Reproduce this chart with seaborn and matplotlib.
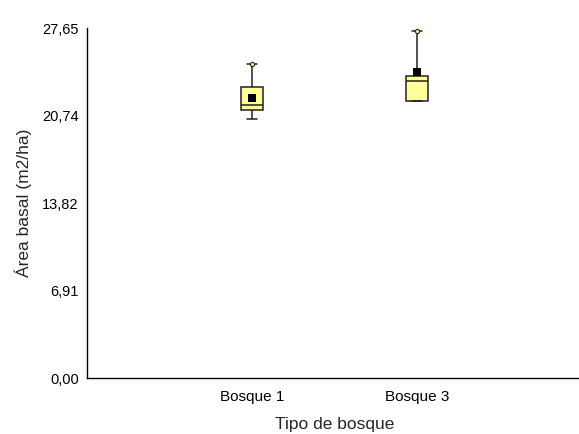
import numpy as np
import pandas as pd
import matplotlib
matplotlib.use("Agg")
import matplotlib.pyplot as plt
import seaborn as sns

# Five-number summaries of basal area (m2/ha) per forest type
categories = ["Bosque 1", "Bosque 3"]
minimum = [20.50, 21.87]
q1 = [21.16, 21.87]
median = [21.60, 23.48]
q3 = [23.00, 23.85]
maximum = [24.80, 27.44]
means = [22.13, 24.19]

y_ticks = [0.00, 6.91, 13.82, 20.74, 27.65]
y_ticklabels = ["0,00", "6,91", "13,82", "20,74", "27,65"]

sns.set_style("white")
plt.rcParams["font.family"] = ["Liberation Sans", "DejaVu Sans"]

# Long table: each group's summary values (quartiles of 5 values land exactly on q1/q3)
rows = []
for i, cat in enumerate(categories):
    for v in (minimum[i], q1[i], median[i], q3[i], maximum[i]):
        rows.append({"Tipo de bosque": cat, "Área basal": v})
df = pd.DataFrame(rows)
df_mean = pd.DataFrame({"Tipo de bosque": categories, "media": means})
df_max = pd.DataFrame({"Tipo de bosque": categories, "max": maximum})

fig = plt.figure(figsize=(5.79, 4.34), dpi=100)
ax = fig.add_axes([87 / 579, 1 - 378 / 434, 495 / 579, (378 - 28) / 434])

line_kw = dict(color="#222222", linewidth=1.1)
sns.boxplot(
    data=df, x="Tipo de bosque", y="Área basal", order=categories,
    width=0.13, whis=(0, 100), color="#FFFF99", saturation=1,
    linecolor="#222222", linewidth=1.1, fliersize=0,
    medianprops=dict(color="#222222", linewidth=1.1),
    capprops=line_kw, whiskerprops=line_kw,
    ax=ax,
)

# Maximum markers and mean squares
sns.scatterplot(data=df_max, x="Tipo de bosque", y="max", marker="o", s=9,
                color="#FFFF99", edgecolor="#222222", linewidth=0.8, zorder=5, ax=ax)
sns.scatterplot(data=df_mean, x="Tipo de bosque", y="media", marker="s", s=38,
                color="black", edgecolor="black", linewidth=0, zorder=6, ax=ax)

ax.set_xlim(-1, 2)
ax.set_ylim(0, 27.65)
ax.set_xticks([-1, 0, 1])
ax.set_xticklabels(["", "Bosque 1", "Bosque 3"], fontsize=11)
ax.set_yticks(y_ticks)
ax.set_yticklabels(y_ticklabels, fontsize=10.5)
ax.tick_params(axis="both", direction="out", width=1, color="black",
               labelcolor="black")
ax.tick_params(axis="x", length=4.5, pad=4.5)
ax.tick_params(axis="y", length=4.5, pad=1.5)
ax.set_xlabel("Tipo de bosque", fontsize=12.5, labelpad=9)
ax.set_ylabel("Área basal (m2/ha)", fontsize=12.5, labelpad=7)

for side in ("top", "right"):
    ax.spines[side].set_visible(False)
for side in ("left", "bottom"):
    ax.spines[side].set_color("black")
    ax.spines[side].set_linewidth(1)

fig.savefig("out.png", dpi=100)
